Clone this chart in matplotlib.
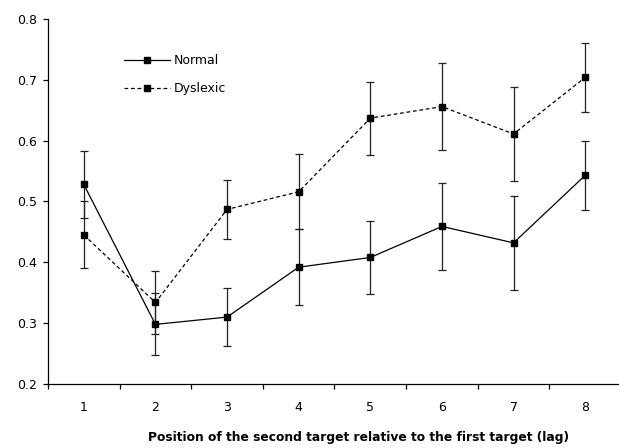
import matplotlib.pyplot as plt

plt.rcParams['font.family'] = ['DejaVu Sans']

lags = [1, 2, 3, 4, 5, 6, 7, 8]
normal = [0.528, 0.298, 0.310, 0.392, 0.408, 0.459, 0.432, 0.543]
dyslexic = [0.445, 0.334, 0.487, 0.516, 0.637, 0.656, 0.611, 0.704]
# same error size for both groups at each lag
err = [0.055, 0.051, 0.048, 0.062, 0.060, 0.071, 0.077, 0.057]

fig = plt.figure(figsize=(6.19, 4.48), dpi=100)
ax = fig.add_axes([48 / 619, 64 / 448, 573 / 619, 365 / 448])

ax.errorbar(lags, normal, yerr=err, fmt='none', ecolor='#222222', elinewidth=0.9,
            capsize=3.2, capthick=0.9, zorder=2)
ax.errorbar(lags, dyslexic, yerr=err, fmt='none', ecolor='#222222', elinewidth=0.9,
            capsize=3.2, capthick=0.9, zorder=2)
ax.plot(lags, normal, color='black', lw=0.9, marker='s', ms=5, label='Normal', zorder=3)
ax.plot(lags, dyslexic, color='black', lw=0.9, dashes=(3, 2.2), marker='s', ms=5,
        label='Dyslexic', zorder=3)

ax.set_xlim(0.5, 8.5)
ax.set_ylim(0.2, 0.8)
ax.set_yticks([0.2, 0.3, 0.4, 0.5, 0.6, 0.7, 0.8])
ax.set_yticklabels(['0.2', '0.3', '0.4', '0.5', '0.6', '0.7', '0.8'])
ax.set_xticks([x + 0.5 for x in range(0, 8)])
ax.set_xticklabels([])
ax.set_xticks(lags, minor=True)
ax.set_xticklabels([str(x) for x in lags], minor=True)
ax.tick_params(axis='x', which='minor', length=0, pad=12, labelsize=9)
ax.tick_params(axis='x', which='major', length=3.6, width=0.9, direction='out')
ax.tick_params(axis='y', length=3.6, width=0.9, direction='out', labelsize=9, pad=4)

for side in ['top', 'right']:
    ax.spines[side].set_visible(False)
for side in ['left', 'bottom']:
    ax.spines[side].set_linewidth(0.9)

ax.set_xlabel('Position of the second target relative to the first target (lag)',
              fontsize=8.8, fontweight='bold')
ax.xaxis.set_label_coords(0.542, -0.129)

ax.legend(loc='upper left', bbox_to_anchor=(0.122, 0.92), frameon=False, fontsize=9,
          handlelength=3.7, handletextpad=0.25, labelspacing=1.2, borderpad=0)

fig.savefig('out.png', dpi=100)
